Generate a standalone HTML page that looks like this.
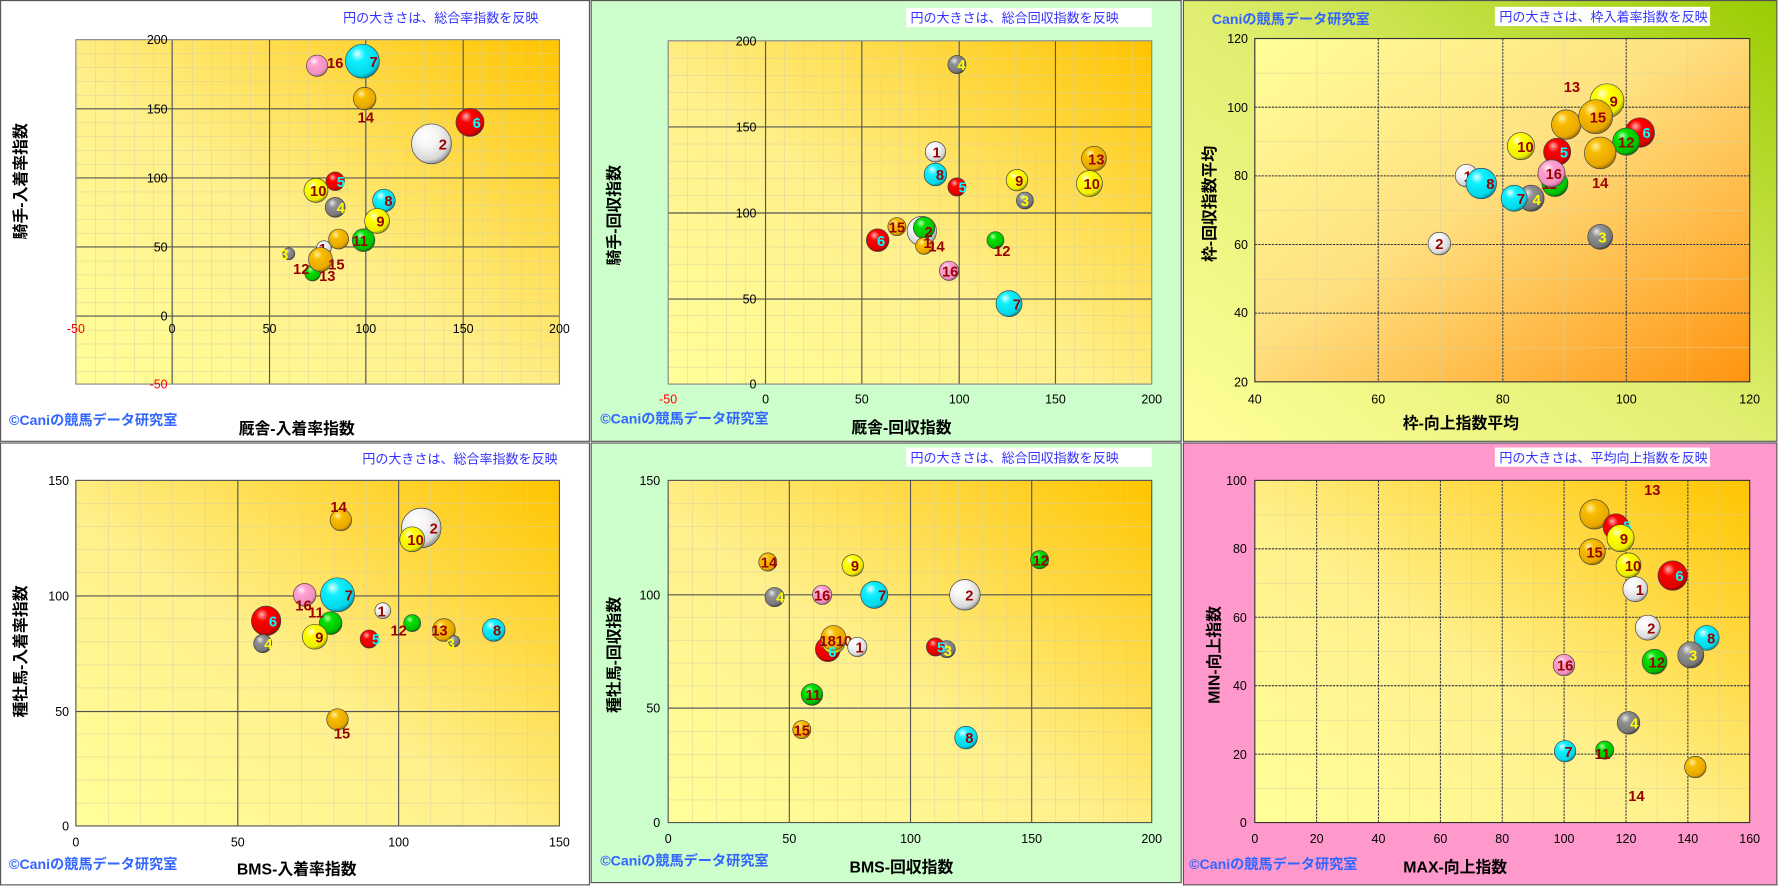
<!DOCTYPE html>
<html><head><meta charset="utf-8">
<style>
html,body{margin:0;padding:0;background:#fff;}
svg{display:block}
text{font-family:"Liberation Sans","Noto Sans CJK JP",sans-serif;}
.t{font-size:11px;fill:#000}
.tr{font-size:11px;fill:#ff0000}
.ax{font-size:14px;font-weight:bold;fill:#000}
.ti{font-size:11.5px;fill:#3333ff}
.cp{font-size:12.5px;font-weight:bold;fill:#3366ff}
.L{font-size:13px;font-weight:bold;fill:#990000;text-anchor:middle}
.C{font-size:13px;font-weight:bold;fill:#00ffff;text-anchor:middle}
.Y{font-size:13px;font-weight:bold;fill:#ffff00;text-anchor:middle}
circle{stroke:#444;stroke-width:.6}
.mj{stroke:#555;stroke-width:1}
.md{stroke:#333;stroke-width:.9;stroke-dasharray:2 1}
</style></head><body>
<svg width="1778" height="886" viewBox="0 0 1570 782" preserveAspectRatio="none" xmlns="http://www.w3.org/2000/svg">
<defs>
<linearGradient id="pg" x1="0" y1="1" x2="1" y2="0"><stop offset="0" stop-color="#ffff99"/><stop offset=".45" stop-color="#fff08c"/><stop offset="1" stop-color="#ffc400"/></linearGradient>
<linearGradient id="pg3" x1="0" y1="0" x2="1" y2="1"><stop offset="0" stop-color="#ffff99"/><stop offset=".45" stop-color="#ffe080"/><stop offset="1" stop-color="#ff9410"/></linearGradient>
<linearGradient id="bg3" x1="0" y1="1" x2="1" y2="0"><stop offset="0" stop-color="#ffff99"/><stop offset=".5" stop-color="#e0ee70"/><stop offset="1" stop-color="#99cc00"/></linearGradient>
<radialGradient id="R" cx=".4" cy=".35" r=".7" fx=".35" fy=".28"><stop offset="0" stop-color="#ffb0b0"/><stop offset=".3" stop-color="#ff0000"/><stop offset=".8" stop-color="#e00000"/><stop offset="1" stop-color="#800000"/></radialGradient>
<radialGradient id="Cy" cx=".4" cy=".35" r=".7" fx=".35" fy=".28"><stop offset="0" stop-color="#e0ffff"/><stop offset=".3" stop-color="#10f0ff"/><stop offset=".8" stop-color="#00d8e8"/><stop offset="1" stop-color="#007a8a"/></radialGradient>
<radialGradient id="W" cx=".4" cy=".35" r=".7" fx=".35" fy=".28"><stop offset="0" stop-color="#ffffff"/><stop offset=".4" stop-color="#f4f4f4"/><stop offset=".8" stop-color="#d8d8d8"/><stop offset="1" stop-color="#808080"/></radialGradient>
<radialGradient id="G" cx=".4" cy=".35" r=".7" fx=".35" fy=".28"><stop offset="0" stop-color="#e8e8e8"/><stop offset=".3" stop-color="#909090"/><stop offset=".8" stop-color="#777"/><stop offset="1" stop-color="#333"/></radialGradient>
<radialGradient id="O" cx=".4" cy=".35" r=".7" fx=".35" fy=".28"><stop offset="0" stop-color="#fff0a0"/><stop offset=".3" stop-color="#f7bc00"/><stop offset=".8" stop-color="#e8a800"/><stop offset="1" stop-color="#8a6000"/></radialGradient>
<radialGradient id="Ye" cx=".4" cy=".35" r=".7" fx=".35" fy=".28"><stop offset="0" stop-color="#ffffd0"/><stop offset=".3" stop-color="#ffff00"/><stop offset=".8" stop-color="#eeee00"/><stop offset="1" stop-color="#808000"/></radialGradient>
<radialGradient id="Gr" cx=".4" cy=".35" r=".7" fx=".35" fy=".28"><stop offset="0" stop-color="#b0ffb0"/><stop offset=".3" stop-color="#00e000"/><stop offset=".8" stop-color="#00c000"/><stop offset="1" stop-color="#005a00"/></radialGradient>
<radialGradient id="P" cx=".4" cy=".35" r=".7" fx=".35" fy=".28"><stop offset="0" stop-color="#fff0f8"/><stop offset=".3" stop-color="#ffa0d0"/><stop offset=".8" stop-color="#f090c0"/><stop offset="1" stop-color="#a05070"/></radialGradient>
<pattern id="m1" patternUnits="userSpaceOnUse" x="67" y="35" width="17.1" height="12.2"><path d="M0 0H17.1M0 0V12.2" stroke="#d8d0a0" stroke-width=".8" fill="none"/></pattern>
<pattern id="m2" patternUnits="userSpaceOnUse" x="590" y="36" width="17.08" height="15.15"><path d="M0 0H17.08M0 0V15.15" stroke="#d8d0a0" stroke-width=".8" fill="none"/></pattern>
<pattern id="m3" patternUnits="userSpaceOnUse" x="1108" y="34" width="54.6" height="30.3"><path d="M0 0H54.6M0 0V30.3" stroke="#d8d0a0" stroke-width=".8" fill="none"/></pattern>
<pattern id="m4" patternUnits="userSpaceOnUse" x="67" y="424" width="28.47" height="20.33"><path d="M0 0H28.47M0 0V20.33" stroke="#d8d0a0" stroke-width=".8" fill="none"/></pattern>
<pattern id="m5" patternUnits="userSpaceOnUse" x="590" y="424" width="21.35" height="20.13"><path d="M0 0H21.35M0 0V20.13" stroke="#d8d0a0" stroke-width=".8" fill="none"/></pattern>
<pattern id="m6" patternUnits="userSpaceOnUse" x="1108" y="424" width="27.31" height="30.2"><path d="M0 0H27.31M0 0V30.2" stroke="#d8d0a0" stroke-width=".8" fill="none"/></pattern>
</defs>

<!-- panel backgrounds -->
<rect x="0.5" y="0.5" width="520" height="389" fill="#fff" stroke="#555"/>
<rect x="522" y="0.5" width="521" height="389" fill="#ccffcc" stroke="#555"/>
<rect x="1045" y="0.5" width="524" height="389" fill="url(#bg3)" stroke="#555"/>
<rect x="0.5" y="391" width="520" height="390" fill="#fff" stroke="#555"/>
<rect x="522" y="391" width="521" height="388" fill="#ccffcc" stroke="#555"/>
<rect x="1045" y="391" width="524" height="390" fill="#ff99cc" stroke="#555"/>

<!-- ===== PANEL 1 ===== -->
<rect x="67" y="35" width="427" height="304" fill="url(#pg)"/>
<rect x="67" y="35" width="427" height="304" fill="url(#m1)"/>
<g class="mj"><line x1="152" y1="35" x2="152" y2="339"/><line x1="238" y1="35" x2="238" y2="339"/><line x1="323" y1="35" x2="323" y2="339"/><line x1="409" y1="35" x2="409" y2="339"/>
<line x1="67" y1="96" x2="494" y2="96"/><line x1="67" y1="157" x2="494" y2="157"/><line x1="67" y1="218" x2="494" y2="218"/><line x1="67" y1="279" x2="494" y2="279"/></g>
<rect x="67" y="35" width="427" height="304" fill="none" stroke="#888"/>
<g class="t" text-anchor="middle"><text x="152" y="294">0</text><text x="238" y="294">50</text><text x="323" y="294">100</text><text x="409" y="294">150</text><text x="494" y="294">200</text></g>
<text class="tr" x="67" y="294" text-anchor="middle">-50</text>
<g class="t" text-anchor="end"><text x="148" y="39">200</text><text x="148" y="100">150</text><text x="148" y="161">100</text><text x="148" y="222">50</text><text x="148" y="283">0</text></g>
<text class="tr" x="148" y="343" text-anchor="end">-50</text>
<text class="ti" x="303" y="20">円の大きさは、総合率指数を反映</text>
<text class="cp" x="8" y="375">©Caniの競馬データ研究室</text>
<text class="ax" x="262" y="383" text-anchor="middle">厩舎-入着率指数</text>
<text class="ax" transform="translate(23,160) rotate(-90)" text-anchor="middle">騎手-入着率指数</text>
<circle cx="280" cy="58" r="9.4" fill="url(#P)"/><text class="L" x="296" y="60">16</text>
<circle cx="320" cy="54" r="15" fill="url(#Cy)"/><text class="L" x="330" y="59">7</text>
<circle cx="322" cy="87" r="10" fill="url(#O)"/><text class="L" x="323" y="108">14</text>
<circle cx="381" cy="127" r="17.6" fill="url(#W)"/><text class="L" x="391" y="132">2</text>
<circle cx="415" cy="108" r="12.4" fill="url(#R)"/><text class="C" x="421" y="113">6</text>
<circle cx="279" cy="168" r="10.6" fill="url(#Ye)"/><text class="L" x="281" y="173">10</text>
<circle cx="296" cy="160" r="8.2" fill="url(#R)"/><text class="C" x="301" y="165">5</text>
<circle cx="339" cy="177" r="10" fill="url(#Cy)"/><text class="L" x="343" y="182">8</text>
<circle cx="296" cy="183" r="8.8" fill="url(#G)"/><text class="Y" x="301" y="188">4</text>
<circle cx="333" cy="195" r="11" fill="url(#Ye)"/><text class="L" x="336" y="200">9</text>
<circle cx="321" cy="212" r="10" fill="url(#Gr)"/><text class="L" x="318" y="217">11</text>
<circle cx="299" cy="211" r="8.8" fill="url(#O)"/>
<circle cx="255" cy="224" r="5.3" fill="url(#G)"/><text class="Y" x="251" y="229">3</text>
<circle cx="286" cy="219" r="6.5" fill="url(#W)"/><text class="L" x="285" y="224">1</text>
<circle cx="276" cy="241" r="7" fill="url(#Gr)"/>
<circle cx="283" cy="229" r="10.6" fill="url(#O)"/><text class="L" x="297" y="238">15</text>
<text class="L" x="266" y="242">12</text><text class="L" x="289" y="248">13</text>

<!-- ===== PANEL 2 ===== -->
<rect x="800" y="7" width="217" height="17" fill="#fff"/>
<text class="ti" x="804" y="20">円の大きさは、総合回収指数を反映</text>
<rect x="590" y="36" width="427" height="303" fill="url(#pg)"/>
<rect x="590" y="36" width="427" height="303" fill="url(#m2)"/>
<g class="mj"><line x1="676" y1="36" x2="676" y2="339"/><line x1="761" y1="36" x2="761" y2="339"/><line x1="847" y1="36" x2="847" y2="339"/><line x1="932" y1="36" x2="932" y2="339"/>
<line x1="590" y1="112" x2="1017" y2="112"/><line x1="590" y1="188" x2="1017" y2="188"/><line x1="590" y1="264" x2="1017" y2="264"/></g>
<rect x="590" y="36" width="427" height="303" fill="none" stroke="#888"/>
<g class="t" text-anchor="middle"><text x="676" y="356">0</text><text x="761" y="356">50</text><text x="847" y="356">100</text><text x="932" y="356">150</text><text x="1017" y="356">200</text></g>
<text class="tr" x="590" y="356" text-anchor="middle">-50</text>
<g class="t" text-anchor="end"><text x="668" y="40">200</text><text x="668" y="116">150</text><text x="668" y="192">100</text><text x="668" y="268">50</text><text x="668" y="343">0</text></g>
<text class="cp" x="530" y="374">©Caniの競馬データ研究室</text>
<text class="ax" x="796" y="382" text-anchor="middle">厩舎-回収指数</text>
<text class="ax" transform="translate(547,190) rotate(-90)" text-anchor="middle">騎手-回収指数</text>
<circle cx="845" cy="57" r="8" fill="url(#G)"/><text class="Y" x="849" y="62">4</text>
<circle cx="826" cy="134" r="9" fill="url(#W)"/><text class="L" x="827" y="139">1</text>
<circle cx="826" cy="154" r="10" fill="url(#Cy)"/><text class="L" x="830" y="159">8</text>
<circle cx="845" cy="165" r="8" fill="url(#R)"/><text class="C" x="850" y="170">5</text>
<circle cx="898" cy="159" r="9.5" fill="url(#Ye)"/><text class="L" x="900" y="164">9</text>
<circle cx="966" cy="140" r="11" fill="url(#O)"/><text class="L" x="968" y="145">13</text>
<circle cx="962" cy="162" r="11.5" fill="url(#Ye)"/><text class="L" x="964" y="167">10</text>
<circle cx="905" cy="177" r="7.5" fill="url(#G)"/><text class="Y" x="905" y="182">3</text>
<circle cx="792" cy="200" r="8" fill="url(#O)"/><text class="L" x="792" y="205">15</text>
<circle cx="814" cy="204" r="13" fill="url(#W)"/>
<circle cx="816" cy="201" r="9.5" fill="url(#Gr)"/><text class="L" x="820" y="209">2</text>
<circle cx="816" cy="217" r="7.5" fill="url(#O)"/><text class="L" x="827" y="222">14</text><text class="L" x="819" y="219">1</text>
<circle cx="775" cy="212" r="10" fill="url(#R)"/><text class="C" x="778" y="217">6</text>
<circle cx="879" cy="212" r="7.5" fill="url(#Gr)"/><text class="L" x="885" y="226">12</text>
<circle cx="838" cy="239" r="8.5" fill="url(#P)"/><text class="L" x="839" y="244">16</text>
<circle cx="891" cy="268" r="11.5" fill="url(#Cy)"/><text class="L" x="898" y="273">7</text>

<!-- ===== PANEL 3 ===== -->
<text class="cp" x="1070" y="21">Caniの競馬データ研究室</text>
<rect x="1320" y="6" width="190" height="17" fill="#fff"/>
<text class="ti" x="1324" y="19">円の大きさは、枠入着率指数を反映</text>
<rect x="1108" y="34" width="437" height="303" fill="url(#pg3)"/>
<rect x="1108" y="34" width="437" height="303" fill="url(#m3)"/>
<g class="md"><line x1="1217" y1="34" x2="1217" y2="337"/><line x1="1327" y1="34" x2="1327" y2="337"/><line x1="1436" y1="34" x2="1436" y2="337"/>
<line x1="1108" y1="94.6" x2="1545" y2="94.6"/><line x1="1108" y1="155.2" x2="1545" y2="155.2"/><line x1="1108" y1="215.8" x2="1545" y2="215.8"/><line x1="1108" y1="276.4" x2="1545" y2="276.4"/></g>
<rect x="1108" y="34" width="437" height="303" fill="none" stroke="#333"/>
<g class="t" text-anchor="middle"><text x="1108" y="356">40</text><text x="1217" y="356">60</text><text x="1327" y="356">80</text><text x="1436" y="356">100</text><text x="1545" y="356">120</text></g>
<g class="t" text-anchor="end"><text x="1102" y="38">120</text><text x="1102" y="99">100</text><text x="1102" y="159">80</text><text x="1102" y="220">60</text><text x="1102" y="280">40</text><text x="1102" y="341">20</text></g>
<text class="ax" x="1290" y="378" text-anchor="middle">枠-向上指数平均</text>
<text class="ax" transform="translate(1073,180) rotate(-90)" text-anchor="middle">枠-回収指数平均</text>
<text class="L" x="1388" y="81">13</text>
<circle cx="1419" cy="89" r="15" fill="url(#Ye)"/><text class="L" x="1425" y="94">9</text>
<circle cx="1383" cy="110" r="13" fill="url(#O)"/>
<circle cx="1409" cy="103" r="15" fill="url(#O)"/><text class="L" x="1411" y="108">15</text>
<circle cx="1448" cy="117" r="13" fill="url(#R)"/><text class="C" x="1454" y="122">6</text>
<circle cx="1436" cy="125" r="12" fill="url(#Gr)"/><text class="L" x="1436" y="130">12</text>
<circle cx="1343" cy="129" r="12" fill="url(#Ye)"/><text class="L" x="1347" y="134">10</text>
<circle cx="1375" cy="134" r="12" fill="url(#R)"/><text class="C" x="1381" y="139">5</text>
<circle cx="1413" cy="135" r="14" fill="url(#O)"/><text class="L" x="1413" y="166">14</text>
<circle cx="1373" cy="162" r="11.5" fill="url(#Gr)"/><text class="L" x="1368" y="167">11</text>
<circle cx="1370" cy="153" r="12" fill="url(#P)"/><text class="L" x="1372" y="158">16</text>
<circle cx="1295" cy="155" r="10" fill="url(#W)"/><text class="L" x="1296" y="160">1</text>
<circle cx="1308" cy="162" r="13.5" fill="url(#Cy)"/><text class="L" x="1316" y="167">8</text>
<circle cx="1352" cy="175" r="11.5" fill="url(#G)"/><text class="Y" x="1357" y="181">4</text>
<circle cx="1337" cy="175" r="11.5" fill="url(#Cy)"/><text class="L" x="1343" y="180">7</text>
<circle cx="1271" cy="215" r="10" fill="url(#W)"/><text class="L" x="1271" y="220">2</text>
<circle cx="1413" cy="209" r="11" fill="url(#G)"/><text class="Y" x="1415" y="214">3</text>

<!-- ===== PANEL 4 ===== -->
<text class="ti" x="320" y="409">円の大きさは、総合率指数を反映</text>
<rect x="67" y="424" width="427" height="305" fill="url(#pg)"/>
<rect x="67" y="424" width="427" height="305" fill="url(#m4)"/>
<g class="mj"><line x1="210" y1="424" x2="210" y2="729"/><line x1="352" y1="424" x2="352" y2="729"/>
<line x1="67" y1="526" x2="494" y2="526"/><line x1="67" y1="628" x2="494" y2="628"/></g>
<rect x="67" y="424" width="427" height="305" fill="none" stroke="#555"/>
<g class="t" text-anchor="middle"><text x="67" y="747">0</text><text x="210" y="747">50</text><text x="352" y="747">100</text><text x="494" y="747">150</text></g>
<g class="t" text-anchor="end"><text x="61" y="428">150</text><text x="61" y="530">100</text><text x="61" y="632">50</text><text x="61" y="733">0</text></g>
<text class="cp" x="8" y="767">©Caniの競馬データ研究室</text>
<text class="ax" x="262" y="772" text-anchor="middle">BMS-入着率指数</text>
<text class="ax" transform="translate(23,575) rotate(-90)" text-anchor="middle">種牡馬-入着率指数</text>
<circle cx="301" cy="459" r="9.5" fill="url(#O)"/><text class="L" x="299" y="452">14</text>
<circle cx="372" cy="466" r="17.5" fill="url(#W)"/><text class="L" x="383" y="471">2</text>
<circle cx="364" cy="476" r="11" fill="url(#Ye)"/><text class="L" x="367" y="481">10</text>
<circle cx="269" cy="525" r="10" fill="url(#P)"/><text class="L" x="268" y="539">16</text>
<circle cx="298" cy="525" r="15" fill="url(#Cy)"/><text class="L" x="308" y="530">7</text>
<circle cx="338" cy="539" r="7" fill="url(#W)"/><text class="L" x="337" y="544">1</text>
<circle cx="235" cy="548" r="13" fill="url(#R)"/><text class="C" x="241" y="553">6</text>
<circle cx="292" cy="550" r="10" fill="url(#Gr)"/><text class="L" x="279" y="545">11</text>
<circle cx="364" cy="550" r="7.5" fill="url(#Gr)"/><text class="L" x="352" y="561">12</text>
<circle cx="392" cy="556" r="10" fill="url(#O)"/><text class="L" x="388" y="561">13</text>
<circle cx="401" cy="566" r="5" fill="url(#G)"/><text class="Y" x="398" y="573">3</text>
<circle cx="436" cy="556" r="10" fill="url(#Cy)"/><text class="L" x="439" y="561">8</text>
<circle cx="278" cy="562" r="11" fill="url(#Ye)"/><text class="L" x="282" y="567">9</text>
<circle cx="326" cy="564" r="8" fill="url(#R)"/><text class="C" x="332" y="569">5</text>
<circle cx="232" cy="568" r="8" fill="url(#G)"/><text class="Y" x="237" y="573">4</text>
<circle cx="298" cy="635" r="9.5" fill="url(#O)"/><text class="L" x="302" y="652">15</text>

<!-- ===== PANEL 5 ===== -->
<rect x="800" y="395" width="217" height="17" fill="#fff"/>
<text class="ti" x="804" y="408">円の大きさは、総合回収指数を反映</text>
<rect x="590" y="424" width="427" height="302" fill="url(#pg)"/>
<rect x="590" y="424" width="427" height="302" fill="url(#m5)"/>
<g class="mj"><line x1="697" y1="424" x2="697" y2="726"/><line x1="804" y1="424" x2="804" y2="726"/><line x1="911" y1="424" x2="911" y2="726"/>
<line x1="590" y1="525" x2="1017" y2="525"/><line x1="590" y1="625" x2="1017" y2="625"/></g>
<rect x="590" y="424" width="427" height="302" fill="none" stroke="#555"/>
<g class="t" text-anchor="middle"><text x="590" y="744">0</text><text x="697" y="744">50</text><text x="804" y="744">100</text><text x="911" y="744">150</text><text x="1017" y="744">200</text></g>
<g class="t" text-anchor="end"><text x="583" y="428">150</text><text x="583" y="529">100</text><text x="583" y="629">50</text><text x="583" y="730">0</text></g>
<text class="cp" x="530" y="764">©Caniの競馬データ研究室</text>
<text class="ax" x="796" y="770" text-anchor="middle">BMS-回収指数</text>
<text class="ax" transform="translate(547,578) rotate(-90)" text-anchor="middle">種牡馬-回収指数</text>
<circle cx="678" cy="496" r="8" fill="url(#O)"/><text class="L" x="679" y="501">14</text>
<circle cx="753" cy="499" r="9.5" fill="url(#Ye)"/><text class="L" x="755" y="504">9</text>
<circle cx="918" cy="494" r="8" fill="url(#Gr)"/><text class="L" x="919" y="499">12</text>
<circle cx="684" cy="527" r="8.5" fill="url(#G)"/><text class="Y" x="689" y="532">4</text>
<circle cx="726" cy="525" r="8.5" fill="url(#P)"/><text class="L" x="726" y="530">16</text>
<circle cx="772" cy="525" r="12" fill="url(#Cy)"/><text class="L" x="779" y="530">7</text>
<circle cx="852" cy="525" r="13.5" fill="url(#W)"/><text class="L" x="856" y="530">2</text>
<circle cx="731" cy="573" r="11" fill="url(#R)"/>
<circle cx="736" cy="567" r="10" fill="url(#Ye)"/>
<circle cx="736" cy="563" r="11" fill="url(#O)"/><text class="L" x="738" y="570">1810</text><text class="C" x="735" y="580">6</text>
<circle cx="757" cy="571" r="8.5" fill="url(#W)"/><text class="L" x="759" y="576">1</text>
<circle cx="836" cy="573" r="7.5" fill="url(#G)"/><text class="Y" x="837" y="579">3</text>
<circle cx="826" cy="571" r="8" fill="url(#R)"/><text class="C" x="831" y="576">5</text>
<circle cx="717" cy="613" r="9.5" fill="url(#Gr)"/><text class="L" x="718" y="618">11</text>
<circle cx="708" cy="644" r="8" fill="url(#O)"/><text class="L" x="708" y="649">15</text>
<circle cx="853" cy="651" r="10" fill="url(#Cy)"/><text class="L" x="856" y="656">8</text>

<!-- ===== PANEL 6 ===== -->
<rect x="1320" y="395" width="190" height="17" fill="#fff"/>
<text class="ti" x="1324" y="408">円の大きさは、平均向上指数を反映</text>
<rect x="1108" y="424" width="437" height="302" fill="url(#pg)"/>
<rect x="1108" y="424" width="437" height="302" fill="url(#m6)"/>
<g class="md"><line x1="1162.6" y1="424" x2="1162.6" y2="726"/><line x1="1217.2" y1="424" x2="1217.2" y2="726"/><line x1="1271.9" y1="424" x2="1271.9" y2="726"/><line x1="1326.5" y1="424" x2="1326.5" y2="726"/><line x1="1381.1" y1="424" x2="1381.1" y2="726"/><line x1="1435.8" y1="424" x2="1435.8" y2="726"/><line x1="1490.4" y1="424" x2="1490.4" y2="726"/>
<line x1="1108" y1="484.4" x2="1545" y2="484.4"/><line x1="1108" y1="544.8" x2="1545" y2="544.8"/><line x1="1108" y1="605.2" x2="1545" y2="605.2"/><line x1="1108" y1="665.6" x2="1545" y2="665.6"/></g>
<rect x="1108" y="424" width="437" height="302" fill="none" stroke="#333"/>
<g class="t" text-anchor="middle"><text x="1108" y="744">0</text><text x="1162.6" y="744">20</text><text x="1217.2" y="744">40</text><text x="1271.9" y="744">60</text><text x="1326.5" y="744">80</text><text x="1381.1" y="744">100</text><text x="1435.8" y="744">120</text><text x="1490.4" y="744">140</text><text x="1545" y="744">160</text></g>
<g class="t" text-anchor="end"><text x="1101" y="428">100</text><text x="1101" y="488">80</text><text x="1101" y="549">60</text><text x="1101" y="609">40</text><text x="1101" y="670">20</text><text x="1101" y="730">0</text></g>
<text class="cp" x="1050" y="767">©Caniの競馬データ研究室</text>
<text class="ax" x="1285" y="770" text-anchor="middle">MAX-向上指数</text>
<text class="ax" transform="translate(1077,578) rotate(-90)" text-anchor="middle">MIN-向上指数</text>
<text class="L" x="1459" y="437">13</text>
<circle cx="1408" cy="454" r="13" fill="url(#O)"/>
<circle cx="1427" cy="465" r="11.5" fill="url(#R)"/><text class="C" x="1437" y="469">5</text>
<circle cx="1431" cy="475" r="12" fill="url(#Ye)"/><text class="L" x="1434" y="480">9</text>
<circle cx="1406" cy="487" r="11.5" fill="url(#O)"/><text class="L" x="1408" y="492">15</text>
<circle cx="1438" cy="499" r="11" fill="url(#Ye)"/><text class="L" x="1442" y="504">10</text>
<circle cx="1477" cy="508" r="13" fill="url(#R)"/><text class="C" x="1483" y="513">6</text>
<circle cx="1444" cy="520" r="11" fill="url(#W)"/><text class="L" x="1448" y="525">1</text>
<circle cx="1455" cy="554" r="11" fill="url(#W)"/><text class="L" x="1458" y="559">2</text>
<circle cx="1507" cy="563" r="11" fill="url(#Cy)"/><text class="L" x="1511" y="568">8</text>
<circle cx="1493" cy="578" r="11.5" fill="url(#G)"/><text class="Y" x="1495" y="583">3</text>
<circle cx="1461" cy="584" r="11" fill="url(#Gr)"/><text class="L" x="1463" y="589">12</text>
<circle cx="1381" cy="587" r="9.5" fill="url(#P)"/><text class="L" x="1382" y="592">16</text>
<circle cx="1438" cy="638" r="10" fill="url(#G)"/><text class="Y" x="1443" y="643">4</text>
<circle cx="1382" cy="663" r="9.5" fill="url(#Cy)"/><text class="L" x="1385" y="668">7</text>
<circle cx="1417" cy="662" r="8" fill="url(#Gr)"/><text class="L" x="1415" y="670">11</text>
<circle cx="1497" cy="677" r="9.5" fill="url(#O)"/>
<text class="L" x="1445" y="707">14</text>
</svg>
</body></html>
